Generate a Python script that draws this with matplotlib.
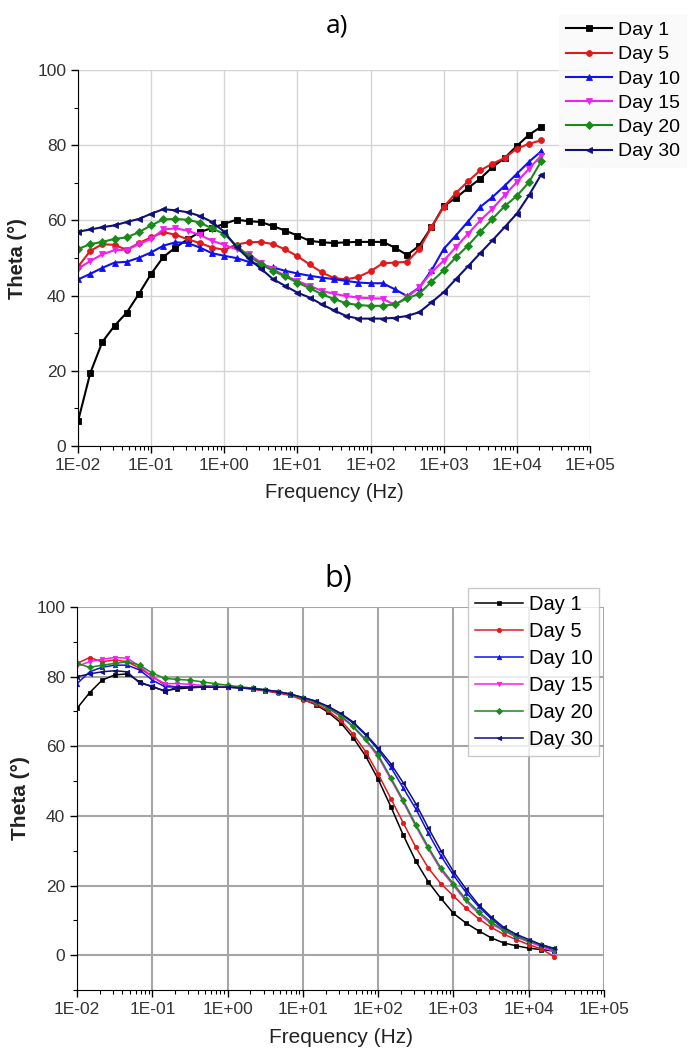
import matplotlib
matplotlib.use("Agg")
import matplotlib.pyplot as plt
from matplotlib.ticker import FixedLocator, LogLocator, NullFormatter, MultipleLocator

plt.rcParams["font.family"] = ["Liberation Sans", "DejaVu Sans"]

# measurement frequencies (Hz), 6 points per decade
freq = [0.01, 0.0147, 0.0215, 0.0316, 0.0464, 0.0681,
        0.1, 0.147, 0.215, 0.316, 0.464, 0.681,
        1, 1.47, 2.15, 3.16, 4.64, 6.81,
        10, 14.7, 21.5, 31.6, 46.4, 68.1,
        100, 147, 215, 316, 464, 681,
        1000, 1470, 2150, 3160, 4640, 6810,
        10000, 14700, 21500]

days = ["Day 1", "Day 5", "Day 10", "Day 15", "Day 20", "Day 30"]
colors = ["#000000", "#e31a1c", "#1010f0", "#f020f0", "#1a8a1a", "#10107a"]
markers = ["s", "o", "^", "v", "D", "<"]

x_ticks = [1e-2, 1e-1, 1e0, 1e1, 1e2, 1e3, 1e4, 1e5]
x_tick_labels = ["1E-02", "1E-01", "1E+00", "1E+01", "1E+02", "1E+03", "1E+04", "1E+05"]

# panel a) phase angle
a_day1 = [6.6, 19.4, 27.7, 32, 35.5, 40.5, 45.8, 50.3, 52.8, 55, 56.9, 58, 59.1,
          60.2, 59.8, 59.6, 58.5, 57.3, 56, 54.6, 54.2, 54, 54.2, 54.3, 54.3, 54.3, 52.8, 50.8,
          53.3, 58.2, 63.8, 66, 68.6, 71.1, 74.2, 76.6, 79.8, 82.8, 84.9]
a_day5 = [47.7, 51.9, 53.7, 53.5, 52.2, 54, 55.5, 56.9, 56.2, 55, 54, 52.8, 52.2,
          53.6, 54.2, 54.3, 53.7, 52.3, 50.5, 48.3, 46.2, 44.7, 44.3, 45, 46.5, 48.6, 48.8, 49,
          52.4, 58.2, 63.6, 67.3, 70.4, 73.3, 75.1, 76.6, 79.1, 80.4, 81.3]
a_day10 = [44.3, 45.8, 47.4, 48.8, 49, 50.1, 51.5, 53.3, 54.2, 54, 52.8, 51.3, 50.6,
           50, 49, 48.1, 47.5, 46.6, 45.9, 45.3, 44.8, 44.4, 43.9, 43.5, 43.3, 43.3, 41.7, 39.9,
           42.2, 46.7, 52.4, 56, 59.7, 63.6, 66.2, 69.2, 72.4, 75.6, 78.4]
a_day15 = [47.2, 49.2, 51, 52.1, 52.2, 53.7, 55.1, 57.6, 57.9, 57.3, 56.1, 54.6, 53.5,
           52.3, 51.1, 48.8, 47, 45.3, 43.9, 42.6, 41.3, 40.5, 39.9, 39.5, 39.3, 39.2, 37.5, 39.6,
           42.2, 46.2, 49.3, 52.9, 56.4, 60, 63.1, 66.7, 70.2, 73.8, 77.2]
a_day20 = [52.4, 53.7, 54.3, 55.1, 55.5, 56.9, 58.7, 60.3, 60.4, 60.2, 59.4, 57.9, 56.4,
           53.3, 50.6, 48.4, 46.6, 45.1, 43.5, 42, 40.4, 39.1, 38, 37.5, 37.3, 37.3, 37.7, 39.3,
           40.5, 43.7, 46.7, 50.2, 53.3, 56.9, 60.4, 63.8, 66.5, 70.2, 75.7]
a_day30 = [57, 57.6, 58.2, 58.7, 59.6, 60.4, 61.8, 63, 62.7, 62.2, 61.2, 59.6, 57,
           52.9, 49.9, 47.2, 44.4, 42.6, 40.8, 39.5, 37.7, 36.1, 34.6, 33.9, 33.9, 33.9, 34.1, 34.6,
           35.6, 38.2, 40.9, 44.4, 47.8, 51.3, 54.7, 58.2, 61.8, 66.7, 72.2]

# panel b) phase angle
b_day1 = [70.9, 75.4, 79, 80.5, 80.8, 78.5, 77, 76,
          76.5, 76.8, 77, 77, 77, 76.8, 76.5, 76, 75.5, 74.8,
          73.5, 72, 69.8, 66.8, 62.5, 57.2,
          50.5, 42.7, 34.5, 27, 21, 16.3, 12, 9.2, 7, 5, 3.5, 2.7, 2, 1.6, 1.2]
b_day5 = [83.8, 85.5, 84.3, 84.8, 84.3, 82.4, 80, 77.6,
          77, 77, 77, 77, 77, 76.8, 76.4, 75.9, 75.3, 74.6,
          73.3, 72.2, 70.3, 67.5, 63.5, 58.5,
          52, 45, 38, 31, 25, 20.5, 17, 13.5, 10.5, 8, 6, 4.5, 3, 1.8, -0.4]
b_day10 = [78, 81.4, 82.7, 83.3, 83.3, 81.9, 79, 77.1,
           77, 77, 77, 77, 77, 76.8, 76.6, 76.2, 75.7, 75,
           74, 73, 71.3, 69.3, 66.7, 63.2,
           59, 54, 48, 42, 35, 28.5, 23, 18, 14, 10.5, 7.5, 5.5, 4, 2.8, 1.5]
b_day15 = [83, 84.3, 85, 85.5, 85.3, 83, 80, 78,
           78, 77.8, 77.5, 77.3, 77.1, 76.9, 76.6, 76.1, 75.6, 74.9,
           73.7, 72.7, 70.9, 68.6, 65.5, 61.7,
           57, 50.5, 44, 37, 30.5, 24.5, 20, 15.5, 12, 9, 7, 5.2, 3.8, 2.5, 1]
b_day20 = [83.8, 82.7, 83.3, 83.8, 84.3, 83.3, 81, 79.5,
           79.2, 79, 78.5, 78, 77.5, 77.1, 76.7, 76.2, 75.6, 74.9,
           73.8, 72.8, 71, 68.8, 65.8, 62,
           57.5, 51, 44.5, 37.5, 31, 25, 20.5, 16, 12.5, 9.5, 7.2, 5.5, 4, 3, 1.8]
b_day30 = [80, 80.8, 81.4, 81.7, 81.4, 78.1, 77.3, 75.7,
           77, 77, 77, 77, 77, 76.8, 76.6, 76.2, 75.7, 75,
           74, 73, 71.5, 69.5, 67, 63.5,
           59.5, 55, 49.5, 43.5, 36.5, 30, 24, 19, 14.5, 11, 8, 6, 4.5, 3, 2]

a_series = [a_day1, a_day5, a_day10, a_day15, a_day20, a_day30]
b_series = [b_day1, b_day5, b_day10, b_day15, b_day20, b_day30]


def style_axis(ax, ymin, grid_color, grid_lw):
    ax.set_xscale("log")
    ax.set_xlim(1e-2, 1e5)
    ax.set_ylim(ymin, 100)
    ax.xaxis.set_major_locator(FixedLocator(x_ticks))
    ax.set_xticklabels(x_tick_labels)
    ax.xaxis.set_minor_locator(LogLocator(base=10, subs=range(2, 10)))
    ax.xaxis.set_minor_formatter(NullFormatter())
    ax.yaxis.set_major_locator(FixedLocator([0, 20, 40, 60, 80, 100]))
    ax.yaxis.set_minor_locator(MultipleLocator(10))
    ax.tick_params(which="major", direction="out", length=5, width=1, labelsize=12.5,
                   labelcolor="#333333")
    ax.tick_params(which="minor", direction="out", length=3, width=0.8)
    ax.spines["top"].set_visible(False)
    ax.spines["right"].set_visible(False)
    ax.grid(True, which="major", color=grid_color, linewidth=grid_lw)
    ax.set_axisbelow(True)


fig = plt.figure(figsize=(6.88, 10.57), dpi=100)

# ---- panel a)
ax1 = fig.add_axes([0.1134, 0.578, 0.744, 0.3557])
style_axis(ax1, 0, "#d4d4d4", 1.0)
for vals, lab, c, m in zip(a_series, days, colors, markers):
    ax1.plot(freq, vals, color=c, marker=m, markersize=4.2, linewidth=1.5, label=lab,
             markeredgewidth=0.6)
ax1.set_xlabel("Frequency (Hz)", fontsize=14.5, color="#222222")
ax1.xaxis.set_label_coords(0.5, -0.097)
ax1.set_ylabel("Theta (°)", fontsize=14.5, fontweight="bold", color="#222222")
ax1.yaxis.set_label_coords(-0.1, 0.5)
leg1 = ax1.legend(loc="upper left", bbox_to_anchor=(0.813, 0.986), bbox_transform=fig.transFigure,
                  frameon=True, fancybox=False, fontsize=14, handlelength=2.35,
                  borderpad=0.35, labelspacing=0.34, handletextpad=0.3, borderaxespad=0)
leg1.get_frame().set_facecolor("#f9f9f9")
leg1.get_frame().set_edgecolor("#f9f9f9")
fig.text(0.49, 0.975, "a)", fontsize=19, family="Open Sans", ha="center", va="center")

# ---- panel b)
ax2 = fig.add_axes([0.112, 0.0634, 0.766, 0.3623])
style_axis(ax2, -10, "#a6a6a6", 1.5)
for vals, lab, c, m in zip(b_series, days, colors, markers):
    ax2.plot(freq, vals, color=c, marker=m, markersize=3.2, linewidth=1.1, label=lab,
             markeredgewidth=0.5)
ax2.set_xlabel("Frequency (Hz)", fontsize=15, color="#222222")
ax2.xaxis.set_label_coords(0.5, -0.1)
ax2.set_ylabel("Theta (°)", fontsize=15, fontweight="bold", color="#222222")
ax2.yaxis.set_label_coords(-0.09, 0.5)
leg2 = ax2.legend(loc="upper left", bbox_to_anchor=(0.742, 1.05), frameon=True, fancybox=False,
                  fontsize=14.5, handlelength=2.4, borderpad=0.35, labelspacing=0.4,
                  handletextpad=0.25, borderaxespad=0)
leg2.get_frame().set_edgecolor("#bdbdbd")
leg2.get_frame().set_linewidth(1.0)
fig.text(0.491, 0.452, "b)", fontsize=22, family="Open Sans", ha="center", va="center")

fig.savefig("out.png", dpi=100)
